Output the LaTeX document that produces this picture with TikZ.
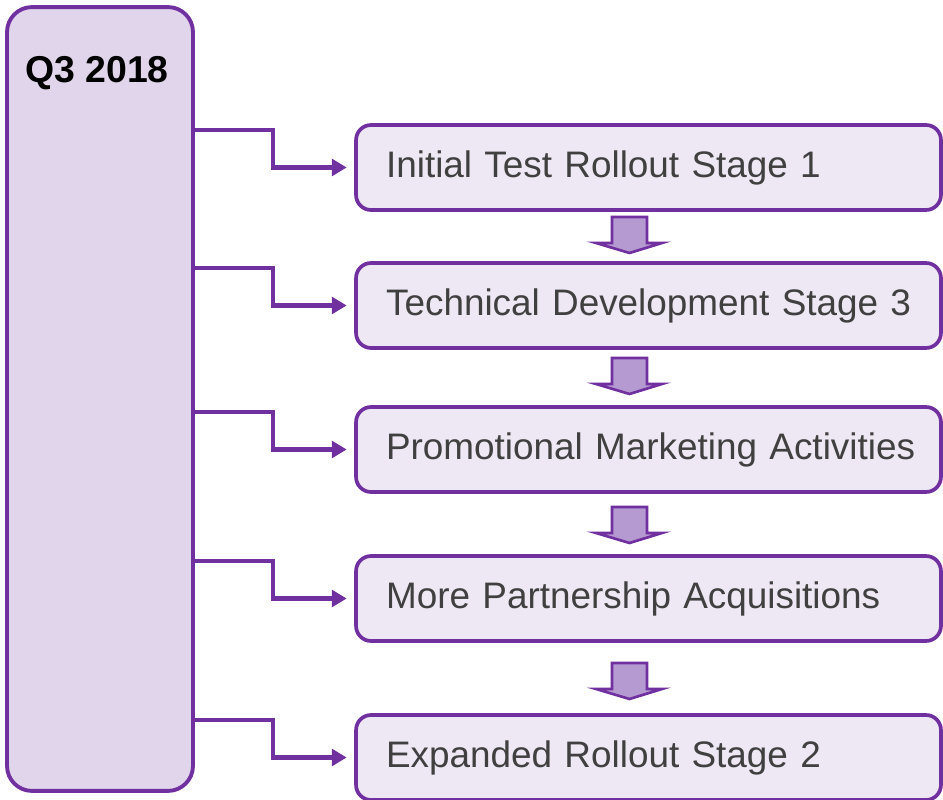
\documentclass[tikz,border=0pt]{standalone}
\usepackage{fontspec}
\setmainfont{Liberation Sans}
\usepackage{tikz}
\usetikzlibrary{arrows.meta}

\definecolor{frame}{HTML}{7030A0}
\definecolor{quarterfill}{HTML}{E1D5EB}
\definecolor{stagefill}{HTML}{EEE8F4}
\definecolor{downfill}{HTML}{B49AD0}
\definecolor{stagetext}{HTML}{404040}

\tikzset{
  quarter/.style={draw=frame, fill=quarterfill, line width=2.2pt, rounded corners=0.5cm,
    minimum width=3.72cm, minimum height=15.68cm},
  stage/.style={draw=frame, fill=stagefill, line width=2.1pt, rounded corners=0.3cm,
    minimum height=1.7cm, text width=10.5cm, inner xsep=0.6cm, align=left,
    text=stagetext, font=\fontsize{21}{25}\selectfont},
  link/.style={draw=frame, line width=2.4pt, -{Triangle[length=8.5pt,width=9.5pt]},
    shorten >=0.15cm},
  down/.style={draw=frame, fill=downfill, line width=1.5pt}
}

\begin{document}
\begin{tikzpicture}[x=0.02cm,y=-0.02cm]
\useasboundingbox (0,0) rectangle (943,800);
% left column
\node[quarter] (lb) at (100,399) {};
\node[font=\fontsize{21.3}{25}\selectfont\bfseries] (qt) at (97,73) {Q3 2018};
% stages
\node[stage] (st1) at (648.5,167.5) {\mbox{Initial Test Rollout Stage 1}};
\node[stage] (st2) at (648.5,305.5) {\mbox{Technical Development Stage 3}};
\node[stage] (st3) at (648.5,449.5) {\mbox{Promotional Marketing Activities}};
\node[stage] (st4) at (648.5,598.5) {\mbox{More Partnership Acquisitions}};
\node[stage] (st5) at (648.5,757.5) {\mbox{Expanded Rollout Stage 2}};
% connectors
\foreach \i in {1,...,5}
  \draw[link] ([yshift=-4pt]lb.east |- st\i.north) -- ++(78,0) |- (st\i.west);
% block arrows
\foreach \t in {217,358,507,663}
  \draw[down] (612,\t) -- (647,\t) -- (647,\t+26) -- (662,\t+26) -- (629.5,\t+36)
    -- (596,\t+26) -- (612,\t+26) -- cycle;
\end{tikzpicture}
\end{document}
